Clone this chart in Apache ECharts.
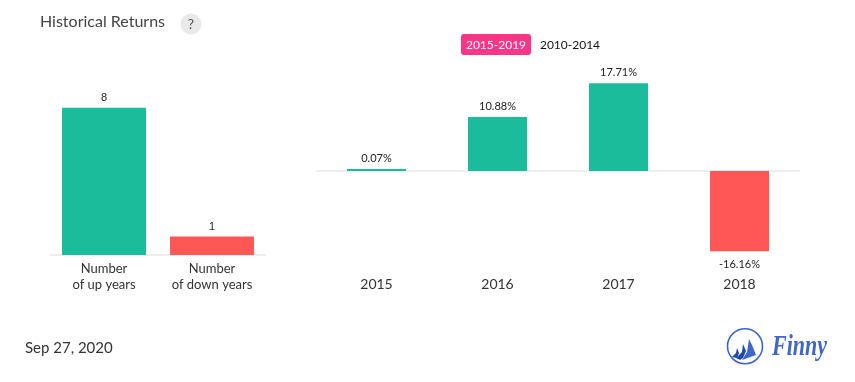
<!DOCTYPE html>
<html><head><meta charset="utf-8">
<style>html,body{margin:0;padding:0;background:#fff}#c{width:855px;height:382px}</style>
<script src="https://cdn.jsdelivr.net/npm/echarts@6/dist/echarts.min.js"></script>
</head><body><div id="c"></div>
<script>
const countCategories = ['Number\nof up years', 'Number\nof down years'];
const countValues = [8, 1];
const yearCategories = ['2015', '2016', '2017', '2018'];
const yearValues = [0.07, 10.88, 17.71, -16.16];
const activeRange = '2015-2019';
const otherRange = '2010-2014';
const UP = '#1abc9c', DOWN = '#ff5656', AXIS = '#eeeeee', FONT = 'Lato';

const chart = echarts.init(document.getElementById('c'), null, {renderer: 'canvas'});
chart.setOption({
  animation: false,
  textStyle: {fontFamily: FONT},
  grid: [
    {left: 50, width: 216, top: 71, height: 184},
    {left: 316, width: 484, top: 71.8, height: 198.4}
  ],
  xAxis: [
    {gridIndex: 0, type: 'category', data: countCategories,
     axisLine: {lineStyle: {color: AXIS, width: 2, cap: 'butt'}}, axisTick: {show: false},
     axisLabel: {color: '#333', fontSize: 13, lineHeight: 16, margin: 6, fontFamily: FONT}},
    {gridIndex: 1, type: 'category', data: yearCategories,
     axisLine: {show: false, onZero: false}, axisTick: {show: false},
     axisLabel: {color: '#333', fontSize: 14, margin: 7, fontFamily: FONT}},
    {gridIndex: 1, type: 'category', data: yearCategories, position: 'bottom',
     axisLine: {onZero: true, lineStyle: {color: AXIS, width: 2, cap: 'butt'}},
     axisTick: {show: false}, axisLabel: {show: false}}
  ],
  yAxis: [
    {gridIndex: 0, type: 'value', min: 0, max: 10, show: false},
    {gridIndex: 1, type: 'value', min: -20, max: 20, show: false}
  ],
  series: [
    {type: 'bar', xAxisIndex: 0, yAxisIndex: 0, barWidth: 84, z: 3,
     data: countValues.map((v, i) => ({value: v, itemStyle: {color: i === 0 ? UP : DOWN}})),
     label: {show: true, position: 'top', distance: 4, color: '#222', fontSize: 11, fontFamily: 'Liberation Sans'}},
    {type: 'bar', xAxisIndex: 1, yAxisIndex: 1, barWidth: 59, barMinHeight: 2, z: 3,
     data: yearValues.map(v => ({value: v, itemStyle: {color: v >= 0 ? UP : DOWN},
       label: {distance: v >= 0 ? 5 : 8}})),
     label: {show: true, position: 'outside', color: '#222', fontSize: 11, fontFamily: FONT,
       formatter: p => p.value + '%'}}
  ],
  graphic: [
    {type: 'text', left: 40, top: 14, style: {text: 'Historical Returns', font: '16px Lato', fill: '#444'}},
    {type: 'circle', shape: {cx: 191, cy: 24, r: 10.5}, style: {fill: '#e9e9e9'}},
    {type: 'text', x: 191, y: 24, style: {text: '?', font: '14px Lato', fill: '#555', align: 'center', verticalAlign: 'middle'}},
    {type: 'rect', shape: {x: 461, y: 34, width: 70, height: 21, r: 3}, style: {fill: '#fd3587'}},
    {type: 'text', x: 496, y: 45, style: {text: activeRange, font: '12px Lato', fill: '#fff', align: 'center', verticalAlign: 'middle'}},
    {type: 'text', x: 570, y: 45, style: {text: otherRange, font: '12px Lato', fill: '#111', align: 'center', verticalAlign: 'middle'}},
    {type: 'text', left: 25, top: 340.5, style: {text: 'Sep 27, 2020', font: '15px Lato', fill: '#333'}},
    {type: 'circle', shape: {cx: 745, cy: 346.3, r: 17.5}, style: {fill: 'none', stroke: '#3f66c8', lineWidth: 1.6}},
    {type: 'polygon', shape: {points: [[749, 339], [752, 345], [756, 355], [742, 360], [747, 352]]}, style: {fill: '#3f66c8'}},
    {type: 'polygon', shape: {points: [[743, 344], [746, 351], [743, 358], [740, 360], [736, 358], [742, 352]]}, style: {fill: '#2347a8'}},
    {type: 'polygon', shape: {points: [[737, 348], [739, 353], [737, 358], [732, 357], [736, 353]]}, style: {fill: '#2347a8'}},
    {type: 'text', x: 772, y: 347, scaleY: 1.35, originX: 0, originY: 0,
     style: {text: 'Finny', font: 'italic bold 22px "Liberation Serif"', fill: '#3f66c8', align: 'left', verticalAlign: 'middle'}}
  ]
});
</script></body></html>
